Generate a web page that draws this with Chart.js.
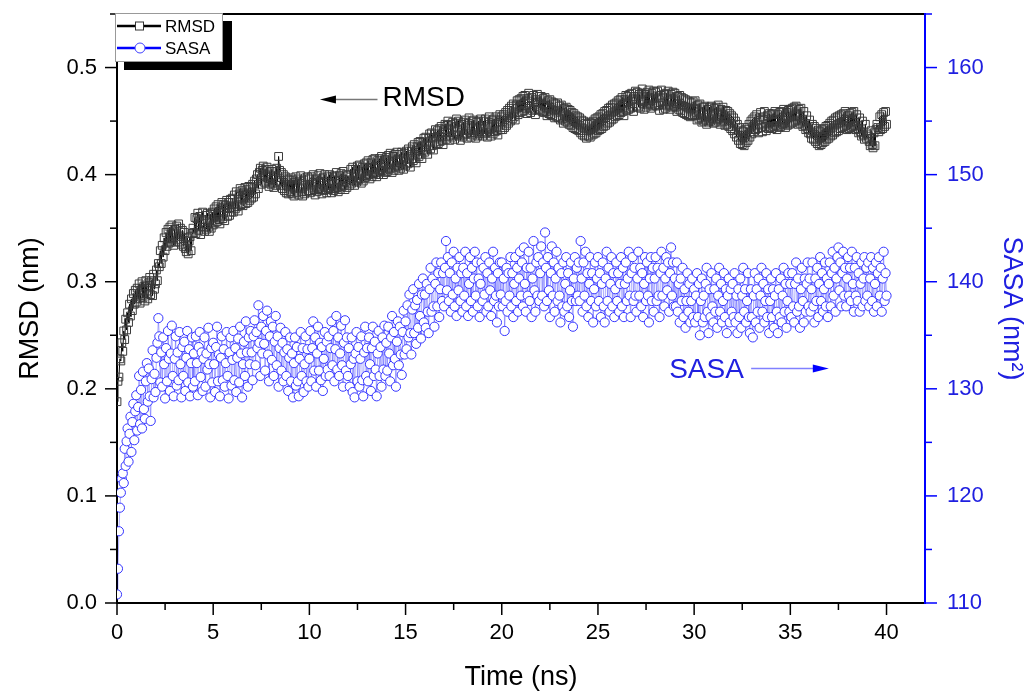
<!DOCTYPE html>
<html>
<head>
<meta charset="utf-8">
<script src="https://cdn.jsdelivr.net/npm/chart.js@4.4.1/dist/chart.umd.min.js"></script>
<style>
html,body{margin:0;padding:0;background:#fff;}
#wrap{width:1035px;height:694px;position:relative;}
</style>
</head>
<body>
<div id="wrap"><canvas id="c" width="1035" height="694"></canvas></div>
<script>
// ---- data ----
const sampleStepNs = 0.05; // time between samples, ns (t = 0.00 ... 40.00), 20 samples per line

const rmsdNm = [
0.188,0.207,0.211,0.228,0.226,0.243,0.235,0.254,0.246,0.265,0.255,0.271,0.262,0.279,0.268,0.284,0.273,0.289,0.279,0.292,
0.281,0.294,0.284,0.298,0.280,0.292,0.300,0.285,0.296,0.282,0.301,0.289,0.284,0.299,0.304,0.288,0.301,0.287,0.307,0.293,
0.298,0.311,0.301,0.317,0.314,0.329,0.317,0.334,0.323,0.341,0.329,0.346,0.333,0.349,0.336,0.351,0.337,0.353,0.340,0.334,
0.349,0.337,0.352,0.339,0.354,0.337,0.350,0.335,0.348,0.333,0.346,0.331,0.328,0.341,0.326,0.338,0.342,0.329,0.345,0.350,
0.346,0.360,0.345,0.359,0.364,0.348,0.361,0.344,0.358,0.365,0.351,0.347,0.362,0.349,0.364,0.351,0.347,0.363,0.350,0.365,
0.353,0.368,0.355,0.370,0.356,0.372,0.358,0.354,0.369,0.374,0.359,0.372,0.357,0.371,0.376,0.361,0.374,0.362,0.377,0.365,
0.378,0.365,0.381,0.368,0.384,0.370,0.366,0.382,0.387,0.372,0.385,0.371,0.383,0.388,0.373,0.386,0.374,0.389,0.376,0.388,
0.378,0.391,0.379,0.394,0.382,0.396,0.400,0.387,0.402,0.406,0.391,0.404,0.408,0.393,0.405,0.392,0.407,0.394,0.389,0.403,
0.391,0.405,0.392,0.388,0.403,0.390,0.406,0.393,0.417,0.404,0.390,0.402,0.387,0.400,0.385,0.398,0.383,0.396,0.382,0.395,
0.384,0.397,0.382,0.395,0.380,0.393,0.398,0.383,0.396,0.381,0.394,0.399,0.384,0.380,0.395,0.382,0.397,0.384,0.398,0.385,
0.396,0.383,0.398,0.385,0.400,0.386,0.381,0.396,0.384,0.399,0.387,0.401,0.386,0.382,0.397,0.385,0.400,0.388,0.383,0.398,
0.386,0.400,0.387,0.383,0.398,0.385,0.399,0.387,0.402,0.388,0.384,0.399,0.386,0.401,0.389,0.403,0.390,0.386,0.400,0.388,
0.399,0.395,0.390,0.405,0.392,0.407,0.394,0.390,0.405,0.393,0.408,0.395,0.409,0.396,0.392,0.407,0.394,0.410,0.397,0.411,
0.399,0.413,0.400,0.396,0.411,0.398,0.414,0.401,0.415,0.402,0.398,0.413,0.400,0.415,0.403,0.417,0.404,0.400,0.414,0.402,
0.416,0.403,0.418,0.405,0.420,0.406,0.402,0.417,0.404,0.419,0.407,0.421,0.408,0.404,0.419,0.406,0.421,0.409,0.405,0.420,
0.408,0.422,0.410,0.424,0.411,0.407,0.422,0.426,0.413,0.428,0.415,0.411,0.426,0.430,0.417,0.431,0.419,0.415,0.430,0.434,
0.421,0.435,0.423,0.419,0.434,0.438,0.424,0.439,0.427,0.423,0.438,0.442,0.428,0.441,0.429,0.443,0.431,0.445,0.432,0.428,
0.442,0.447,0.433,0.446,0.450,0.436,0.432,0.447,0.435,0.449,0.437,0.433,0.448,0.452,0.437,0.450,0.436,0.432,0.447,0.435,
0.449,0.437,0.451,0.438,0.434,0.448,0.453,0.439,0.435,0.450,0.437,0.451,0.439,0.434,0.449,0.436,0.450,0.438,0.452,0.440,
0.436,0.450,0.438,0.452,0.439,0.435,0.449,0.454,0.440,0.436,0.451,0.438,0.452,0.440,0.454,0.441,0.437,0.451,0.456,0.442,
0.454,0.442,0.456,0.444,0.458,0.446,0.460,0.448,0.462,0.450,0.464,0.452,0.466,0.454,0.451,0.465,0.469,0.456,0.470,0.458,
0.471,0.459,0.473,0.460,0.474,0.462,0.457,0.471,0.476,0.462,0.458,0.472,0.460,0.474,0.461,0.456,0.470,0.475,0.461,0.473,
0.460,0.473,0.459,0.471,0.458,0.472,0.459,0.455,0.469,0.457,0.470,0.456,0.468,0.455,0.467,0.453,0.466,0.454,0.467,0.453,
0.464,0.451,0.465,0.452,0.448,0.462,0.450,0.463,0.449,0.461,0.447,0.460,0.446,0.458,0.444,0.457,0.443,0.455,0.442,0.454,
0.441,0.453,0.439,0.451,0.437,0.450,0.436,0.448,0.434,0.447,0.436,0.449,0.435,0.448,0.437,0.450,0.438,0.452,0.439,0.453,
0.441,0.454,0.442,0.456,0.443,0.457,0.445,0.459,0.446,0.460,0.448,0.462,0.449,0.463,0.451,0.465,0.452,0.466,0.454,0.467,
0.455,0.469,0.456,0.470,0.458,0.472,0.459,0.455,0.470,0.474,0.460,0.473,0.461,0.475,0.462,0.476,0.463,0.459,0.473,0.478,
0.464,0.477,0.463,0.475,0.462,0.476,0.480,0.466,0.461,0.475,0.463,0.477,0.465,0.479,0.466,0.462,0.476,0.464,0.478,0.465,
0.477,0.464,0.478,0.465,0.460,0.474,0.479,0.465,0.461,0.475,0.462,0.476,0.464,0.478,0.465,0.461,0.475,0.463,0.477,0.464,
0.476,0.463,0.459,0.473,0.461,0.474,0.460,0.472,0.458,0.471,0.457,0.470,0.456,0.469,0.455,0.468,0.454,0.467,0.455,0.468,
0.456,0.469,0.455,0.451,0.465,0.452,0.466,0.453,0.449,0.463,0.450,0.464,0.451,0.447,0.461,0.449,0.463,0.450,0.464,0.452,
0.448,0.462,0.449,0.463,0.451,0.465,0.452,0.447,0.461,0.449,0.463,0.450,0.446,0.460,0.447,0.459,0.445,0.457,0.443,0.455,
0.441,0.453,0.438,0.450,0.435,0.447,0.432,0.444,0.429,0.441,0.428,0.440,0.427,0.442,0.430,0.444,0.432,0.447,0.435,0.450,
0.438,0.452,0.440,0.454,0.442,0.456,0.443,0.439,0.453,0.458,0.444,0.440,0.454,0.459,0.445,0.441,0.455,0.443,0.457,0.444,
0.456,0.443,0.457,0.445,0.459,0.446,0.442,0.456,0.444,0.458,0.445,0.459,0.447,0.461,0.448,0.444,0.458,0.446,0.460,0.447,
0.461,0.448,0.462,0.449,0.463,0.450,0.464,0.451,0.447,0.461,0.448,0.462,0.450,0.445,0.459,0.446,0.442,0.455,0.443,0.439,
0.451,0.438,0.434,0.447,0.433,0.445,0.431,0.443,0.429,0.441,0.427,0.440,0.428,0.442,0.430,0.443,0.431,0.445,0.433,0.446,
0.434,0.448,0.436,0.450,0.437,0.451,0.439,0.453,0.440,0.454,0.441,0.455,0.443,0.456,0.444,0.457,0.445,0.459,0.446,0.442,
0.455,0.443,0.457,0.444,0.458,0.445,0.459,0.446,0.442,0.456,0.443,0.439,0.453,0.440,0.436,0.450,0.437,0.433,0.447,0.434,
0.438,0.436,0.431,0.427,0.441,0.428,0.425,0.439,0.427,0.442,0.447,0.444,0.440,0.454,0.442,0.456,0.443,0.458,0.445,0.459,
0.447
];

const sasaNm2 = [
110.8,113.2,116.7,118.9,120.3,121.6,122.1,121.2,124.4,122.8,125.1,126.3,123.2,125.8,127.4,124.1,126.9,128.6,125.2,127.9,
129.4,126.1,128.3,131.2,126.7,129.9,126.3,131.6,128.1,127.2,130.7,132.4,128.8,131.9,129.3,127.0,130.9,133.6,129.2,131.4,
129.7,132.9,134.3,136.6,134.9,130.6,133.4,130.2,134.8,132.3,129.1,133.8,130.7,135.4,132.8,129.8,133.3,135.9,131.2,129.3,
132.8,134.9,130.3,133.4,130.8,135.3,132.3,129.2,133.9,131.2,134.4,129.8,132.9,135.4,130.6,133.7,129.3,132.4,134.8,130.2,
133.3,130.7,134.9,132.4,129.4,133.9,135.3,131.1,133.4,129.8,132.8,134.8,130.2,133.3,131.8,135.7,132.3,129.2,133.8,130.6,
134.3,132.3,129.7,133.9,135.8,130.7,133.2,129.3,132.9,134.9,130.8,133.7,130.2,132.4,135.3,131.2,129.1,133.4,134.8,130.3,
132.7,135.4,130.8,133.8,129.7,132.9,134.7,130.6,135.8,133.3,129.2,132.3,134.4,131.2,136.3,133.4,130.2,134.8,132.3,135.4,
133.4,130.8,134.9,136.4,132.2,135.3,133.8,137.8,134.3,131.2,135.8,133.3,136.8,134.2,131.7,135.4,137.3,133.2,130.7,134.9,
136.3,132.7,135.8,131.2,134.4,136.8,132.2,134.9,130.2,133.8,135.7,131.7,134.3,130.7,133.4,135.3,131.2,133.7,129.8,132.9,
134.8,130.7,133.3,129.2,132.4,134.8,130.3,133.9,130.7,129.3,132.8,135.3,131.2,133.8,129.7,132.3,134.9,130.7,133.7,130.2,
132.8,135.4,130.7,133.8,136.3,131.7,134.8,130.2,133.3,135.8,131.7,134.3,130.8,133.9,129.8,132.8,135.3,131.2,134.4,131.8,
134.9,131.2,133.8,136.3,132.2,135.4,130.7,133.7,136.8,131.8,134.8,131.2,133.3,135.9,132.2,130.2,134.3,136.4,131.7,134.8,
131.2,133.8,130.2,132.3,134.8,129.7,132.8,129.2,133.3,135.3,130.7,133.9,130.2,132.8,134.9,130.8,129.3,133.4,135.8,131.2,
133.8,130.7,134.8,132.3,129.8,133.8,135.8,131.2,134.4,131.8,129.3,133.3,135.4,131.2,133.9,130.2,134.8,131.8,135.9,131.2,
134.3,131.7,135.8,133.3,130.7,134.8,136.8,132.2,135.3,132.8,130.2,134.4,136.3,132.2,135.8,133.2,131.3,135.3,137.3,133.2,
136.3,133.7,137.8,134.8,138.8,135.2,133.2,137.4,139.3,135.2,137.8,134.2,138.3,135.7,139.8,136.8,134.7,138.8,140.3,136.2,
138.8,135.7,139.8,137.2,135.2,139.3,141.3,137.2,140.3,137.7,135.8,139.8,141.8,137.7,140.8,136.7,139.3,141.8,138.2,140.8,
137.7,141.3,143.8,139.2,142.3,138.2,140.8,137.2,141.8,138.8,142.8,137.7,140.3,136.8,141.3,139.2,142.3,138.2,140.8,137.2,
141.3,138.7,142.8,137.7,140.8,136.8,139.8,142.3,138.2,141.3,137.2,140.3,142.8,138.7,141.8,137.7,140.3,136.7,139.8,141.8,
138.2,141.3,138.8,142.3,137.2,140.8,137.7,141.8,139.2,136.8,140.3,142.8,138.2,141.3,138.7,136.2,140.8,137.7,141.8,138.8,
141.8,137.7,140.3,135.4,138.2,141.3,137.2,140.8,138.7,142.3,137.7,140.8,136.7,139.8,142.3,138.2,141.3,137.2,140.3,142.8,
138.7,141.8,137.7,143.2,139.8,137.2,141.3,138.7,142.8,138.2,141.3,136.7,140.3,143.8,139.2,137.2,141.8,138.7,142.3,138.2,
140.8,143.3,138.7,141.8,137.7,144.6,141.3,138.2,142.3,139.2,136.7,140.8,143.3,138.7,141.8,137.2,140.3,142.8,138.2,141.3,
138.7,136.2,140.8,137.7,141.8,137.2,139.8,142.3,137.7,140.8,136.7,139.2,141.8,138.2,135.8,140.3,142.3,138.2,141.3,138.7,
141.8,138.2,143.8,140.3,137.2,141.8,138.7,142.8,137.7,140.8,136.7,139.8,142.3,138.2,140.8,136.2,139.3,141.8,137.7,140.3,
142.3,138.2,140.8,136.7,139.8,141.8,137.7,136.2,140.3,142.8,138.2,141.3,137.2,139.8,142.3,137.7,140.8,136.7,139.3,141.8,
138.2,140.8,137.2,139.8,142.3,137.7,141.3,136.7,139.8,141.8,138.2,140.3,142.8,138.7,136.7,140.8,142.3,138.2,141.3,138.7,
137.2,140.3,142.8,138.7,141.3,137.7,140.8,136.7,139.8,142.3,138.2,141.8,138.7,136.2,140.3,142.3,138.2,141.3,137.2,140.3,
142.3,138.2,141.3,138.7,136.7,140.8,142.8,138.7,141.3,137.7,140.3,142.3,139.2,141.8,137.2,140.8,143.2,138.7,141.8,137.7,
140.3,137.7,141.8,137.2,139.8,136.2,140.3,138.2,141.3,136.7,139.3,135.7,138.2,140.8,137.2,139.8,136.2,138.2,140.3,136.7,
139.3,136.2,138.7,140.8,136.7,139.8,135.0,138.2,140.3,136.2,138.7,136.7,139.8,141.3,137.2,135.2,139.3,136.7,140.8,137.7,
136.2,139.3,137.2,140.3,135.7,138.7,141.3,137.2,139.8,136.2,138.2,140.8,136.7,139.3,135.2,138.7,140.3,136.2,139.3,137.2,
139.8,136.7,140.8,136.2,138.7,135.2,139.3,136.7,140.3,135.7,138.7,141.3,137.2,139.3,136.2,138.2,140.8,136.7,135.2,139.3,
136.7,134.8,138.7,140.8,136.2,139.3,137.2,140.3,135.7,138.7,141.3,137.2,139.8,136.2,138.2,140.8,136.7,139.3,135.2,138.2,
140.3,136.7,139.3,135.7,138.7,140.8,137.2,135.2,139.3,136.7,140.3,136.2,138.7,141.3,137.2,139.8,135.7,138.2,140.8,137.2,
139.8,136.7,140.8,137.7,136.2,139.8,141.8,137.2,140.3,137.7,135.7,139.3,141.3,138.2,136.2,140.3,137.2,139.8,141.8,137.7,
140.3,137.2,139.3,141.8,137.7,136.2,140.3,138.2,141.3,136.7,139.8,142.3,138.2,140.8,137.2,139.3,141.8,137.7,140.3,136.7,
139.8,141.8,137.7,140.8,142.8,138.7,141.3,137.2,140.3,142.3,143.2,139.2,141.8,137.7,140.8,142.8,138.7,141.3,137.7,140.3,
142.3,138.7,141.3,138.2,142.8,139.8,137.2,141.3,138.7,142.3,138.2,140.8,137.2,139.8,141.8,137.7,140.3,142.3,138.2,141.3,
138.7,141.8,137.7,140.3,142.3,138.2,141.3,137.2,139.8,141.8,137.7,140.8,142.3,138.7,141.3,137.2,140.3,142.8,138.2,140.8,
138.7
];

const seriesNames = ['RMSD', 'SASA'];
const xTickValues = [0, 5, 10, 15, 20, 25, 30, 35, 40];
const rmsdTickValues = [0.0, 0.1, 0.2, 0.3, 0.4, 0.5];
const sasaTickValues = [110, 120, 130, 140, 150, 160];

// ---- helpers ----
const FONT = "'Liberation Sans', Arial, Helvetica, sans-serif";
const BLUE = '#0000ff';
const BLUE_TXT = '#2020e0';
const near = (a, list) => list.some(v => Math.abs(v - a) < 1e-6);
const toPoints = arr => arr.map((v, i) => ({ x: Math.round(i * sampleStepNs * 100) / 100, y: v }));
const NONE = 'rgba(0,0,0,0)';

// tick marks (major + minor), legend box and annotations
const decorPlugin = {
  id: 'decor',
  afterDraw(chart) {
    const ctx = chart.ctx;
    const sx = chart.scales.x, sy = chart.scales.y, sy2 = chart.scales.y2;
    const ca = chart.chartArea;
    ctx.save();
    ctx.lineWidth = 1.5;
    ctx.strokeStyle = '#000';
    sx.ticks.forEach(t => {
      const len = near(t.value, xTickValues) ? 12 : 7;
      const p = sx.getPixelForValue(t.value);
      ctx.beginPath(); ctx.moveTo(p, ca.bottom); ctx.lineTo(p, ca.bottom + len); ctx.stroke();
    });
    sy.ticks.forEach(t => {
      const len = near(t.value, rmsdTickValues) ? 12 : 7;
      const p = sy.getPixelForValue(t.value);
      ctx.beginPath(); ctx.moveTo(ca.left, p); ctx.lineTo(ca.left - len, p); ctx.stroke();
    });
    ctx.strokeStyle = BLUE;
    sy2.ticks.forEach(t => {
      const len = near(t.value, sasaTickValues) ? 12 : 7;
      const p = sy2.getPixelForValue(t.value);
      ctx.beginPath(); ctx.moveTo(ca.right, p); ctx.lineTo(ca.right + len, p); ctx.stroke();
    });

    // legend box with shadow
    const lx = ca.left - 2, ly = ca.top - 1, lw = 108, lh = 49;
    ctx.fillStyle = '#000';
    ctx.fillRect(lx + 9, ly + 8, lw, lh);
    ctx.fillStyle = '#fff';
    ctx.fillRect(lx, ly, lw, lh);
    ctx.strokeStyle = '#999';
    ctx.lineWidth = 1;
    ctx.strokeRect(lx + 0.5, ly + 0.5, lw - 1, lh - 1);
    const rows = [
      { name: seriesNames[0], color: '#000', style: 'rect', y: ly + 13 },
      { name: seriesNames[1], color: BLUE, style: 'circle', y: ly + 35 }
    ];
    rows.forEach(r => {
      ctx.strokeStyle = r.color;
      ctx.lineWidth = 2.5;
      ctx.beginPath(); ctx.moveTo(lx + 2, r.y); ctx.lineTo(lx + 46, r.y); ctx.stroke();
      ctx.fillStyle = '#fff';
      ctx.lineWidth = 1;
      if (r.style === 'rect') {
        ctx.fillRect(lx + 20, r.y - 4.5, 9, 9);
        ctx.strokeStyle = '#333';
        ctx.strokeRect(lx + 20.5, r.y - 4, 8, 8);
      } else {
        ctx.beginPath(); ctx.arc(lx + 25, r.y, 5, 0, Math.PI * 2); ctx.fill();
        ctx.strokeStyle = '#4040ff'; ctx.stroke();
      }
      ctx.fillStyle = '#000';
      ctx.font = '17px ' + FONT;
      ctx.textBaseline = 'middle';
      ctx.textAlign = 'left';
      ctx.fillText(r.name, lx + 50, r.y + 1);
    });

    // annotation: <- RMSD
    ctx.font = '28px ' + FONT;
    ctx.textBaseline = 'middle';
    ctx.textAlign = 'left';
    let ax = sx.getPixelForValue(13.8), ay = sy.getPixelForValue(0.471);
    ctx.fillStyle = '#000';
    ctx.fillText(seriesNames[0], ax, ay);
    let tip = sx.getPixelForValue(10.55);
    ctx.strokeStyle = '#777'; ctx.lineWidth = 1.5;
    ctx.beginPath(); ctx.moveTo(tip + 12, ay + 1); ctx.lineTo(ax - 5, ay + 1); ctx.stroke();
    ctx.fillStyle = '#000';
    ctx.beginPath(); ctx.moveTo(tip, ay + 1); ctx.lineTo(tip + 16, ay - 3); ctx.lineTo(tip + 16, ay + 5); ctx.closePath(); ctx.fill();

    // annotation: SASA ->
    ax = sx.getPixelForValue(28.7); ay = sy2.getPixelForValue(131.7);
    ctx.fillStyle = BLUE_TXT;
    ctx.fillText(seriesNames[1], ax, ay);
    tip = sx.getPixelForValue(37.0);
    ctx.strokeStyle = '#8080ff'; ctx.lineWidth = 1.5;
    ctx.beginPath(); ctx.moveTo(ax + 82, ay - 2); ctx.lineTo(tip - 12, ay - 2); ctx.stroke();
    ctx.fillStyle = BLUE;
    ctx.beginPath(); ctx.moveTo(tip, ay - 2); ctx.lineTo(tip - 16, ay - 6); ctx.lineTo(tip - 16, ay + 2); ctx.closePath(); ctx.fill();

    ctx.restore();
  }
};

new Chart(document.getElementById('c'), {
  type: 'line',
  data: {
    datasets: [
      {
        label: seriesNames[0],
        data: toPoints(rmsdNm),
        yAxisID: 'y',
        borderColor: '#000',
        borderWidth: 1,
        pointStyle: 'rect',
        pointRadius: 5.5,
        pointBorderWidth: 1,
        pointBorderColor: '#3a3a3a',
        pointBackgroundColor: 'rgba(255,255,255,0)',
        tension: 0
      },
      {
        label: seriesNames[1],
        data: toPoints(sasaNm2),
        yAxisID: 'y2',
        borderColor: 'rgba(0,0,255,0.55)',
        borderWidth: 0.6,
        pointStyle: 'circle',
        pointRadius: 4.6,
        pointBorderWidth: 1,
        pointBorderColor: '#3535ff',
        pointBackgroundColor: '#fff',
        tension: 0
      }
    ]
  },
  options: {
    responsive: false,
    animation: false,
    layout: { padding: 0, autoPadding: false },
    plugins: { legend: { display: false }, tooltip: { enabled: false } },
    scales: {
      x: {
        type: 'linear', position: 'bottom', min: 0, max: 42,
        afterFit(s) { s.height = 91; },
        ticks: {
          stepSize: 2.5, includeBounds: false, autoSkip: false, maxRotation: 0, padding: 5,
          color: '#000', font: { family: FONT, size: 22 },
          callback: v => near(v, xTickValues) ? String(Math.round(v)) : ''
        },
        grid: { drawOnChartArea: false, drawTicks: true, tickLength: 12, tickColor: NONE },
        border: { color: '#000', width: 2 },
        title: { display: true, text: 'Time (ns)', color: '#000', font: { family: FONT, size: 27 }, padding: { top: 0, bottom: 0 } }
      },
      xTop: {
        type: 'linear', position: 'top', min: 0, max: 42,
        afterFit(s) { s.height = 14; },
        ticks: { display: false },
        grid: { display: false },
        border: { color: '#000', width: 2 }
      },
      y: {
        type: 'linear', position: 'left', min: 0, max: 0.55,
        afterFit(s) { s.width = 117; },
        ticks: {
          stepSize: 0.05, includeBounds: false, autoSkip: false, padding: 0,
          color: '#000', font: { family: FONT, size: 22 },
          callback: v => near(v, rmsdTickValues) ? v.toFixed(1) : ''
        },
        grid: { drawOnChartArea: false, drawTicks: true, tickLength: 20, tickColor: NONE },
        border: { color: '#000', width: 2 },
        title: { display: true, text: 'RMSD (nm)', color: '#000', font: { family: FONT, size: 27 }, padding: { top: 14, bottom: 0 } }
      },
      y2: {
        type: 'linear', position: 'right', min: 110, max: 165,
        afterFit(s) { s.width = 110; },
        ticks: {
          stepSize: 5, includeBounds: false, autoSkip: false, padding: 0,
          color: BLUE_TXT, font: { family: FONT, size: 22 },
          callback: v => near(v, sasaTickValues) ? String(Math.round(v)) : ''
        },
        grid: { drawOnChartArea: false, drawTicks: true, tickLength: 22, tickColor: NONE },
        border: { color: BLUE, width: 2 },
        title: { display: true, text: 'SASA (nm²)', color: BLUE_TXT, font: { family: FONT, size: 27 }, padding: { top: 7, bottom: 0 } }
      }
    }
  },
  plugins: [decorPlugin]
});
</script>
</body>
</html>
